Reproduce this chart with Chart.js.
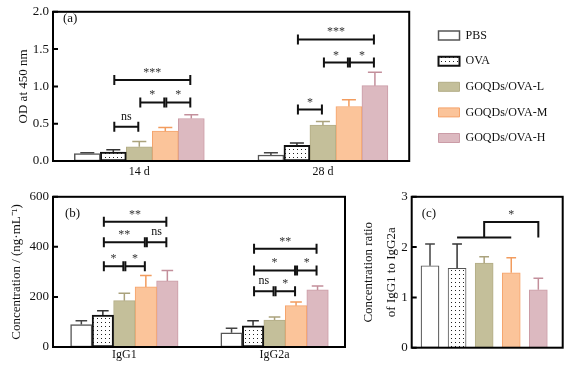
<!DOCTYPE html>
<html>
<head>
<meta charset="utf-8">
<title>OD, IgG1/IgG2a and ratio</title>
<script src="https://cdn.jsdelivr.net/npm/chart.js@4.4.1/dist/chart.umd.min.js"></script>
<style>
  body { margin: 0; background: #fff; }
  #page { position: relative; width: 570px; height: 379px; overflow: hidden; }
  #page canvas { position: absolute; }
</style>
</head>
<body>
<div id="page">
  <canvas id="chart-a" width="570" height="185" style="left:0;top:0"></canvas>
  <canvas id="chart-b" width="380" height="194" style="left:0;top:185px"></canvas>
  <canvas id="chart-c" width="220" height="194" style="left:350px;top:185px"></canvas>
</div>
<script>
// Groups shared by the three panels
const GROUPS = ['PBS', 'OVA', 'GOQDs/OVA-L', 'GOQDs/OVA-M', 'GOQDs/OVA-H'];

// (a) OD at 450 nm (mean, SD) per group
const OD_DAYS = ['14 d', '28 d'];
const OD_14D = [0.10, 0.12, 0.19, 0.40, 0.57];
const OD_14D_SD = [0.01, 0.03, 0.07, 0.05, 0.05];
const OD_28D = [0.08, 0.21, 0.48, 0.73, 1.01];
const OD_28D_SD = [0.03, 0.03, 0.05, 0.09, 0.18];
const OD_TICKS = [0, 0.5, 1.0, 1.5, 2.0];

// (b) concentration, ng/mL
const ISOTYPES = ['IgG1', 'IgG2a'];
const IGG1 = [90, 128, 185, 240, 264];
const IGG1_SD = [15, 17, 30, 46, 42];
const IGG2A = [57, 85, 108, 165, 228];
const IGG2A_SD = [18, 20, 12, 15, 16];
const CONC_TICKS = [0, 200, 400, 600];

// (c) IgG1 / IgG2a ratio
const RATIO = [1.63, 1.58, 1.68, 1.49, 1.15];
const RATIO_SD = [0.43, 0.48, 0.13, 0.30, 0.23];
const RATIO_TICKS = [0, 1, 2, 3];

// significance brackets: [group, from bar, to bar, height, label]
const OD_SIG = [
  [0, 1, 2, 0.46, 'ns'], [0, 2, 3, 0.785, '*'], [0, 3, 4, 0.785, '*'], [0, 1, 4, 1.086, '***'],
  [1, 1, 2, 0.69, '*'], [1, 2, 3, 1.32, '*'], [1, 3, 4, 1.32, '*'], [1, 1, 4, 1.63, '***']
];
const CONC_SIG = [
  [0, 1, 2, 323, '*'], [0, 2, 3, 323, '*'], [0, 1, 3, 418, '**'], [0, 3, 4, 418, 'ns'], [0, 1, 4, 500, '**'],
  [1, 1, 2, 223, 'ns'], [1, 2, 3, 223, '*'], [1, 1, 3, 306, '*'], [1, 3, 4, 306, '*'], [1, 1, 4, 392, '**']
];
// (c): OVA..M joined low, stem from L over to H
const RATIO_SIG = [1, 3, 2, 4, 2.19, 2.5, '*'];

Chart.defaults.font.family = '"Liberation Serif", "Times New Roman", serif';
Chart.defaults.font.size = 12;
Chart.defaults.color = '#111';
Chart.defaults.animation = false;

function dotPattern() {
  const c = document.createElement('canvas');
  c.width = 4; c.height = 4;
  const g = c.getContext('2d');
  g.fillStyle = '#fff';
  g.fillRect(0, 0, 4, 4);
  g.fillStyle = '#222';
  g.fillRect(1, 1, 1, 1);
  return g.createPattern(c, 'repeat');
}
const DOTS = dotPattern();

const STYLE = [
  { fill: '#ffffff', border: '#555', width: 1.5, err: '#444' },
  { fill: DOTS, border: '#111', width: 2, err: '#333' },
  { fill: '#c4bf9a', border: '#b3ad86', width: 1, err: '#aaa27c' },
  { fill: '#fbc49a', border: '#f5a46c', width: 1, err: '#f29c5e' },
  { fill: '#dcb9c0', border: '#cb9ca7', width: 1, err: '#c38f9b' }
];

// error bars, frame, inward ticks, panel label, brackets
const decor = {
  id: 'decor',
  afterDatasetsDraw(chart) {
    const ctx = chart.ctx;
    const y = chart.scales.y;
    ctx.save();
    ctx.lineWidth = 1.5;
    chart.data.datasets.forEach((ds, i) => {
      chart.getDatasetMeta(i).data.forEach((bar, j) => {
        const top = y.getPixelForValue(ds.data[j].y + ds.sd[j]);
        const half = bar.width * 0.27;
        ctx.strokeStyle = Array.isArray(ds.errColor) ? ds.errColor[j] : ds.errColor;
        ctx.beginPath();
        ctx.moveTo(bar.x, bar.y);
        ctx.lineTo(bar.x, top);
        ctx.moveTo(bar.x - half, top);
        ctx.lineTo(bar.x + half, top);
        ctx.stroke();
      });
    });
    ctx.restore();
  },
  afterDraw(chart, args, opts) {
    const { ctx, chartArea: area } = chart;
    const y = chart.scales.y;
    ctx.save();
    ctx.strokeStyle = '#000';
    ctx.lineWidth = 2;
    ctx.strokeRect(area.left, area.top, area.right - area.left, area.bottom - area.top);
    ctx.beginPath();
    y.ticks.forEach((t, k) => {
      const py = y.getPixelForTick(k);
      ctx.moveTo(area.left, py);
      ctx.lineTo(area.left + 5, py);
    });
    ctx.stroke();

    ctx.fillStyle = '#111';
    ctx.font = '13px "Liberation Serif", serif';
    ctx.textBaseline = 'middle';
    ctx.fillText(opts.label, area.left + opts.labelDx, area.top + opts.labelDy);

    ctx.font = '12px "Liberation Serif", serif';
    ctx.textAlign = 'center';
    ctx.textBaseline = 'alphabetic';
    ctx.strokeStyle = '#111';
    (opts.brackets || []).forEach(([g, a, b, v, label]) => {
      const x1 = chart.getDatasetMeta(a).data[g].x + 1;
      const x2 = chart.getDatasetMeta(b).data[g].x - 1;
      const py = y.getPixelForValue(v);
      ctx.beginPath();
      ctx.moveTo(x1, py); ctx.lineTo(x2, py);
      ctx.moveTo(x1, py - 5); ctx.lineTo(x1, py + 5);
      ctx.moveTo(x2, py - 5); ctx.lineTo(x2, py + 5);
      ctx.stroke();
      ctx.fillStyle = label === 'ns' ? '#111' : '#333';
      ctx.fillText(label, (x1 + x2) / 2, py - (label === 'ns' ? 7 : 4));
    });

    if (opts.ratio) {
      const [a, b, stem, end, low, high, label] = opts.ratio;
      const bars = chart.getDatasetMeta(0).data;
      const lowY = y.getPixelForValue(low);
      const highY = y.getPixelForValue(high);
      ctx.beginPath();
      ctx.moveTo(bars[a].x, lowY); ctx.lineTo(bars[b].x, lowY);
      ctx.moveTo(bars[stem].x, lowY);
      ctx.lineTo(bars[stem].x, highY);
      ctx.lineTo(bars[end].x, highY);
      ctx.lineTo(bars[end].x, lowY);
      ctx.stroke();
      ctx.fillStyle = '#333';
      ctx.fillText(label, (bars[stem].x + bars[end].x) / 2, highY - 4);
    }
    ctx.restore();
  }
};

function yAxis(ticks, fmt, title, titlePad, lineHeight, width) {
  return {
    min: ticks[0],
    max: ticks[ticks.length - 1],
    afterBuildTicks: s => { s.ticks = ticks.map(v => ({ value: v })); },
    ticks: { callback: fmt, padding: 4, font: { size: 13 } },
    grid: { display: false, drawTicks: false },
    border: { display: false },
    title: { display: true, text: title, font: { size: 13, lineHeight: lineHeight }, padding: { top: titlePad, bottom: 0 } },
    afterFit: s => { s.width = width; }
  };
}

function xAxis(labels, min, max, pad, height) {
  return {
    type: 'linear',
    min: min,
    max: max,
    offset: false,
    afterBuildTicks: s => { s.ticks = labels.map((_, k) => ({ value: k })); },
    ticks: { display: labels.length > 0, callback: v => labels[v], padding: pad, autoSkip: false, maxRotation: 0, font: { size: 12 } },
    grid: { display: false, drawTicks: false },
    border: { display: false },
    afterFit: s => { s.height = height; }
  };
}

function groupedSets(values, sds, thickness) {
  return GROUPS.map((name, i) => ({
    label: name,
    data: values.map((vals, k) => ({ x: k, y: vals[i] })),
    sd: sds.map(s => s[i]),
    backgroundColor: STYLE[i].fill,
    borderColor: STYLE[i].border,
    borderWidth: STYLE[i].width,
    errColor: STYLE[i].err,
    borderSkipped: false,
    barThickness: thickness
  }));
}

// (a)
new Chart(document.getElementById('chart-a'), {
  type: 'bar',
  data: { datasets: groupedSets([OD_14D, OD_28D], [OD_14D_SD, OD_28D_SD], 26) },
  options: {
    responsive: false,
    layout: { padding: { top: 10, right: 12.7, bottom: 0, left: 0 } },
    scales: {
      x: xAxis(OD_DAYS, -0.47, 1.47, 4, 24),
      y: yAxis(OD_TICKS, v => v.toFixed(1), 'OD at 450 nm', 16, 1.2, 53),
      gap: {
        position: 'right', display: true,
        grid: { display: false, drawTicks: false }, border: { display: false },
        ticks: { display: false },
        afterFit: s => { s.width = 15.7; }
      }
    },
    plugins: {
      legend: {
        position: 'right',
        align: 'start',
        maxWidth: 200,
        // empty title only pushes the first entry down
        title: { display: true, text: '', padding: 0, font: { size: 6, lineHeight: 1 } },
        labels: { boxWidth: 21, boxHeight: 9, padding: 13.6, font: { size: 12 }, color: '#111' }
      },
      tooltip: { enabled: false },
      decor: { label: '(a)', labelDx: 10, labelDy: 7, brackets: OD_SIG }
    }
  },
  plugins: [decor]
});

// (b)
new Chart(document.getElementById('chart-b'), {
  type: 'bar',
  data: { datasets: groupedSets([IGG1, IGG2A], [IGG1_SD, IGG2A_SD], 21.5) },
  options: {
    responsive: false,
    layout: { padding: { top: 10, right: 35, bottom: 0, left: 0 } },
    scales: {
      x: xAxis(ISOTYPES, -0.475, 1.469, 1, 32),
      y: yAxis(CONC_TICKS, v => String(v), 'Concentration / (ng\u00b7mL\u207b\u00b9)', 9, 1.2, 53)
    },
    plugins: {
      legend: { display: false },
      tooltip: { enabled: false },
      decor: { label: '(b)', labelDx: 12, labelDy: 17, brackets: CONC_SIG }
    }
  },
  plugins: [decor]
});

// (c)
new Chart(document.getElementById('chart-c'), {
  type: 'bar',
  data: {
    datasets: [{
      label: 'IgG1/IgG2a',
      data: RATIO.map((v, i) => ({ x: i, y: v })),
      sd: RATIO_SD,
      backgroundColor: STYLE.map(s => s.fill),
      borderColor: ['#555', '#555', '#b3ad86', '#f5a46c', '#cb9ca7'],
      borderWidth: [1.2, 1, 1, 1, 1],
      errColor: STYLE.map(s => s.err),
      borderSkipped: false,
      barThickness: 18
    }]
  },
  options: {
    responsive: false,
    layout: { padding: { top: 10, right: 7.3, bottom: 0, left: 0 } },
    scales: {
      x: xAxis([], -0.676, 4.9, 0, 31.3),
      y: yAxis(RATIO_TICKS, v => String(v), ['Concentration ratio', 'of IgG1 to IgG2a'], 8, 1.7, 61.7)
    },
    plugins: {
      legend: { display: false },
      tooltip: { enabled: false },
      decor: { label: '(c)', labelDx: 10, labelDy: 17, ratio: RATIO_SIG }
    }
  },
  plugins: [decor]
});
</script>
</body>
</html>
